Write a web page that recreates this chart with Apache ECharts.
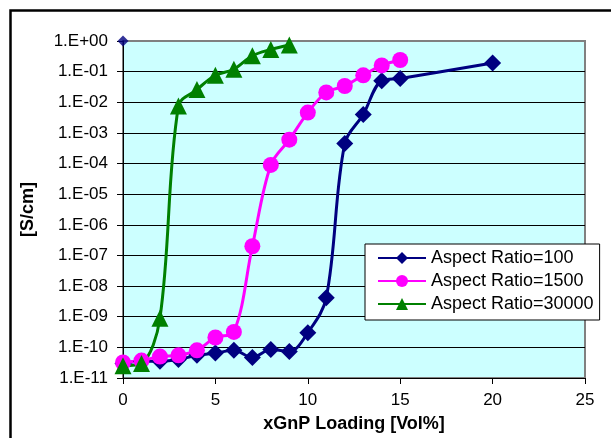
<!DOCTYPE html>
<html>
<head>
<meta charset="utf-8">
<script src="https://cdn.jsdelivr.net/npm/echarts@6/dist/echarts.min.js"></script>
<style>
html,body{margin:0;padding:0;background:#fff;}
#chart{width:611px;height:438px;}
</style>
</head>
<body>
<div id="chart"></div>
<script>
// Data
var ar100X = [0, 1, 2, 3, 4, 5, 6, 7, 8, 9, 10, 11, 12, 13, 14, 15, 20];
var ar100Y = [3e-11, 3.5e-11, 3.5e-11, 4e-11, 5.5e-11, 6.5e-11, 8e-11, 4.7e-11, 8.5e-11, 7.3e-11, 3e-10, 4.2e-9, 4.5e-4, 4e-3, 5e-2, 6e-2, 0.19];
var ar1500X = [0, 1, 2, 3, 4, 5, 6, 7, 8, 9, 10, 11, 12, 13, 14, 15];
var ar1500Y = [3.2e-11, 3.7e-11, 5e-11, 5.5e-11, 8e-11, 2.1e-10, 3.2e-10, 2e-7, 9e-5, 6e-4, 4.6e-3, 2.1e-2, 3.4e-2, 7.6e-2, 0.16, 0.24];
var ar30000X = [0, 1, 2, 3, 4, 5, 6, 7, 8, 9];
var ar30000Y = [2.5e-11, 3e-11, 9e-10, 7.6e-3, 2.6e-2, 7.6e-2, 0.12, 0.33, 0.53, 0.74];
var extraX = [0];
var extraY = [1];
var seriesNames = ['Aspect Ratio=100', 'Aspect Ratio=1500', 'Aspect Ratio=30000'];
var xTitle = 'xGnP Loading [Vol%]';
var yTitle = '[S/cm]';

function pairs(xs, ys) { return xs.map(function (x, i) { return [x, ys[i]]; }); }

var FONT = '"Liberation Sans", Arial, sans-serif';
var chart = echarts.init(document.getElementById('chart'), null, { renderer: 'canvas' });

function lineSeries(name, data, color, symbol, size) {
  return {
    name: name, type: 'line', data: data, smooth: 0.35,
    symbol: symbol, symbolSize: size,
    lineStyle: { color: color, width: 3 },
    itemStyle: { color: color },
    emphasis: { disabled: true },
    animation: false
  };
}

chart.setOption({
  animation: false,
  backgroundColor: '#ffffff',
  textStyle: { fontFamily: FONT },
  grid: {
    left: 123, right: 26, top: 41, bottom: 60,
    show: true, backgroundColor: '#CCFFFF', borderColor: '#808080', borderWidth: 2
  },
  legend: {
    data: seriesNames,
    orient: 'vertical',
    left: 365, top: 244,
    itemWidth: 48, itemHeight: 15, itemGap: 5,
    padding: [5, 6, 7, 12],
    backgroundColor: '#ffffff',
    borderColor: '#000000', borderWidth: 1,
    textStyle: { fontFamily: FONT, fontSize: 18, color: '#000' }
  },
  xAxis: {
    type: 'value', min: 0, max: 25, interval: 5,
    name: xTitle, nameLocation: 'middle', nameGap: 37,
    nameTextStyle: { fontFamily: FONT, fontSize: 18, fontWeight: 'bold', color: '#000' },
    axisLine: { show: true, lineStyle: { color: '#000', width: 1 } },
    axisTick: { show: true, inside: false, length: 6, lineStyle: { color: '#000' } },
    axisLabel: { fontFamily: FONT, fontSize: 17, color: '#000', margin: 14 },
    splitLine: { show: false }
  },
  yAxis: {
    type: 'log', logBase: 10, min: 1e-11, max: 1, interval: 1,
    name: yTitle, nameLocation: 'middle', nameGap: 86, nameRotate: 90,
    nameTextStyle: { fontFamily: FONT, fontSize: 18, fontWeight: 'bold', color: '#000' },
    axisLine: { show: true, lineStyle: { color: '#000', width: 1 } },
    axisTick: { show: true, inside: false, length: 6, lineStyle: { color: '#000' } },
    axisLabel: {
      fontFamily: FONT, fontSize: 17, color: '#000', margin: 15,
      formatter: function (v) {
        var e = Math.round(Math.log10(v));
        var s = Math.abs(e) < 10 ? '0' + Math.abs(e) : '' + Math.abs(e);
        return '1.E' + (e >= 0 ? '+' : '-') + s;
      }
    },
    splitLine: { show: true, showMaxLine: false, showMinLine: false, lineStyle: { color: '#000', width: 1 } }
  },
  series: [
    lineSeries(seriesNames[0], pairs(ar100X, ar100Y), '#000080', 'diamond', 17),
    lineSeries(seriesNames[1], pairs(ar1500X, ar1500Y), '#FF00FF', 'circle', 16),
    lineSeries(seriesNames[2], pairs(ar30000X, ar30000Y), '#008000', 'triangle', 17),
    {
      name: 'extra', type: 'scatter', data: pairs(extraX, extraY),
      symbol: 'diamond', symbolSize: 11, itemStyle: { color: '#000080' },
      emphasis: { disabled: true }, clip: false, z: 5
    }
  ],
  graphic: [
    {
      type: 'rect', left: 8, top: 8, z: 100, silent: true,
      shape: { x: 0, y: 0, width: 800, height: 600 },
      style: { fill: 'none', stroke: '#000', lineWidth: 2.5 }
    }
  ]
});
</script>
</body>
</html>
